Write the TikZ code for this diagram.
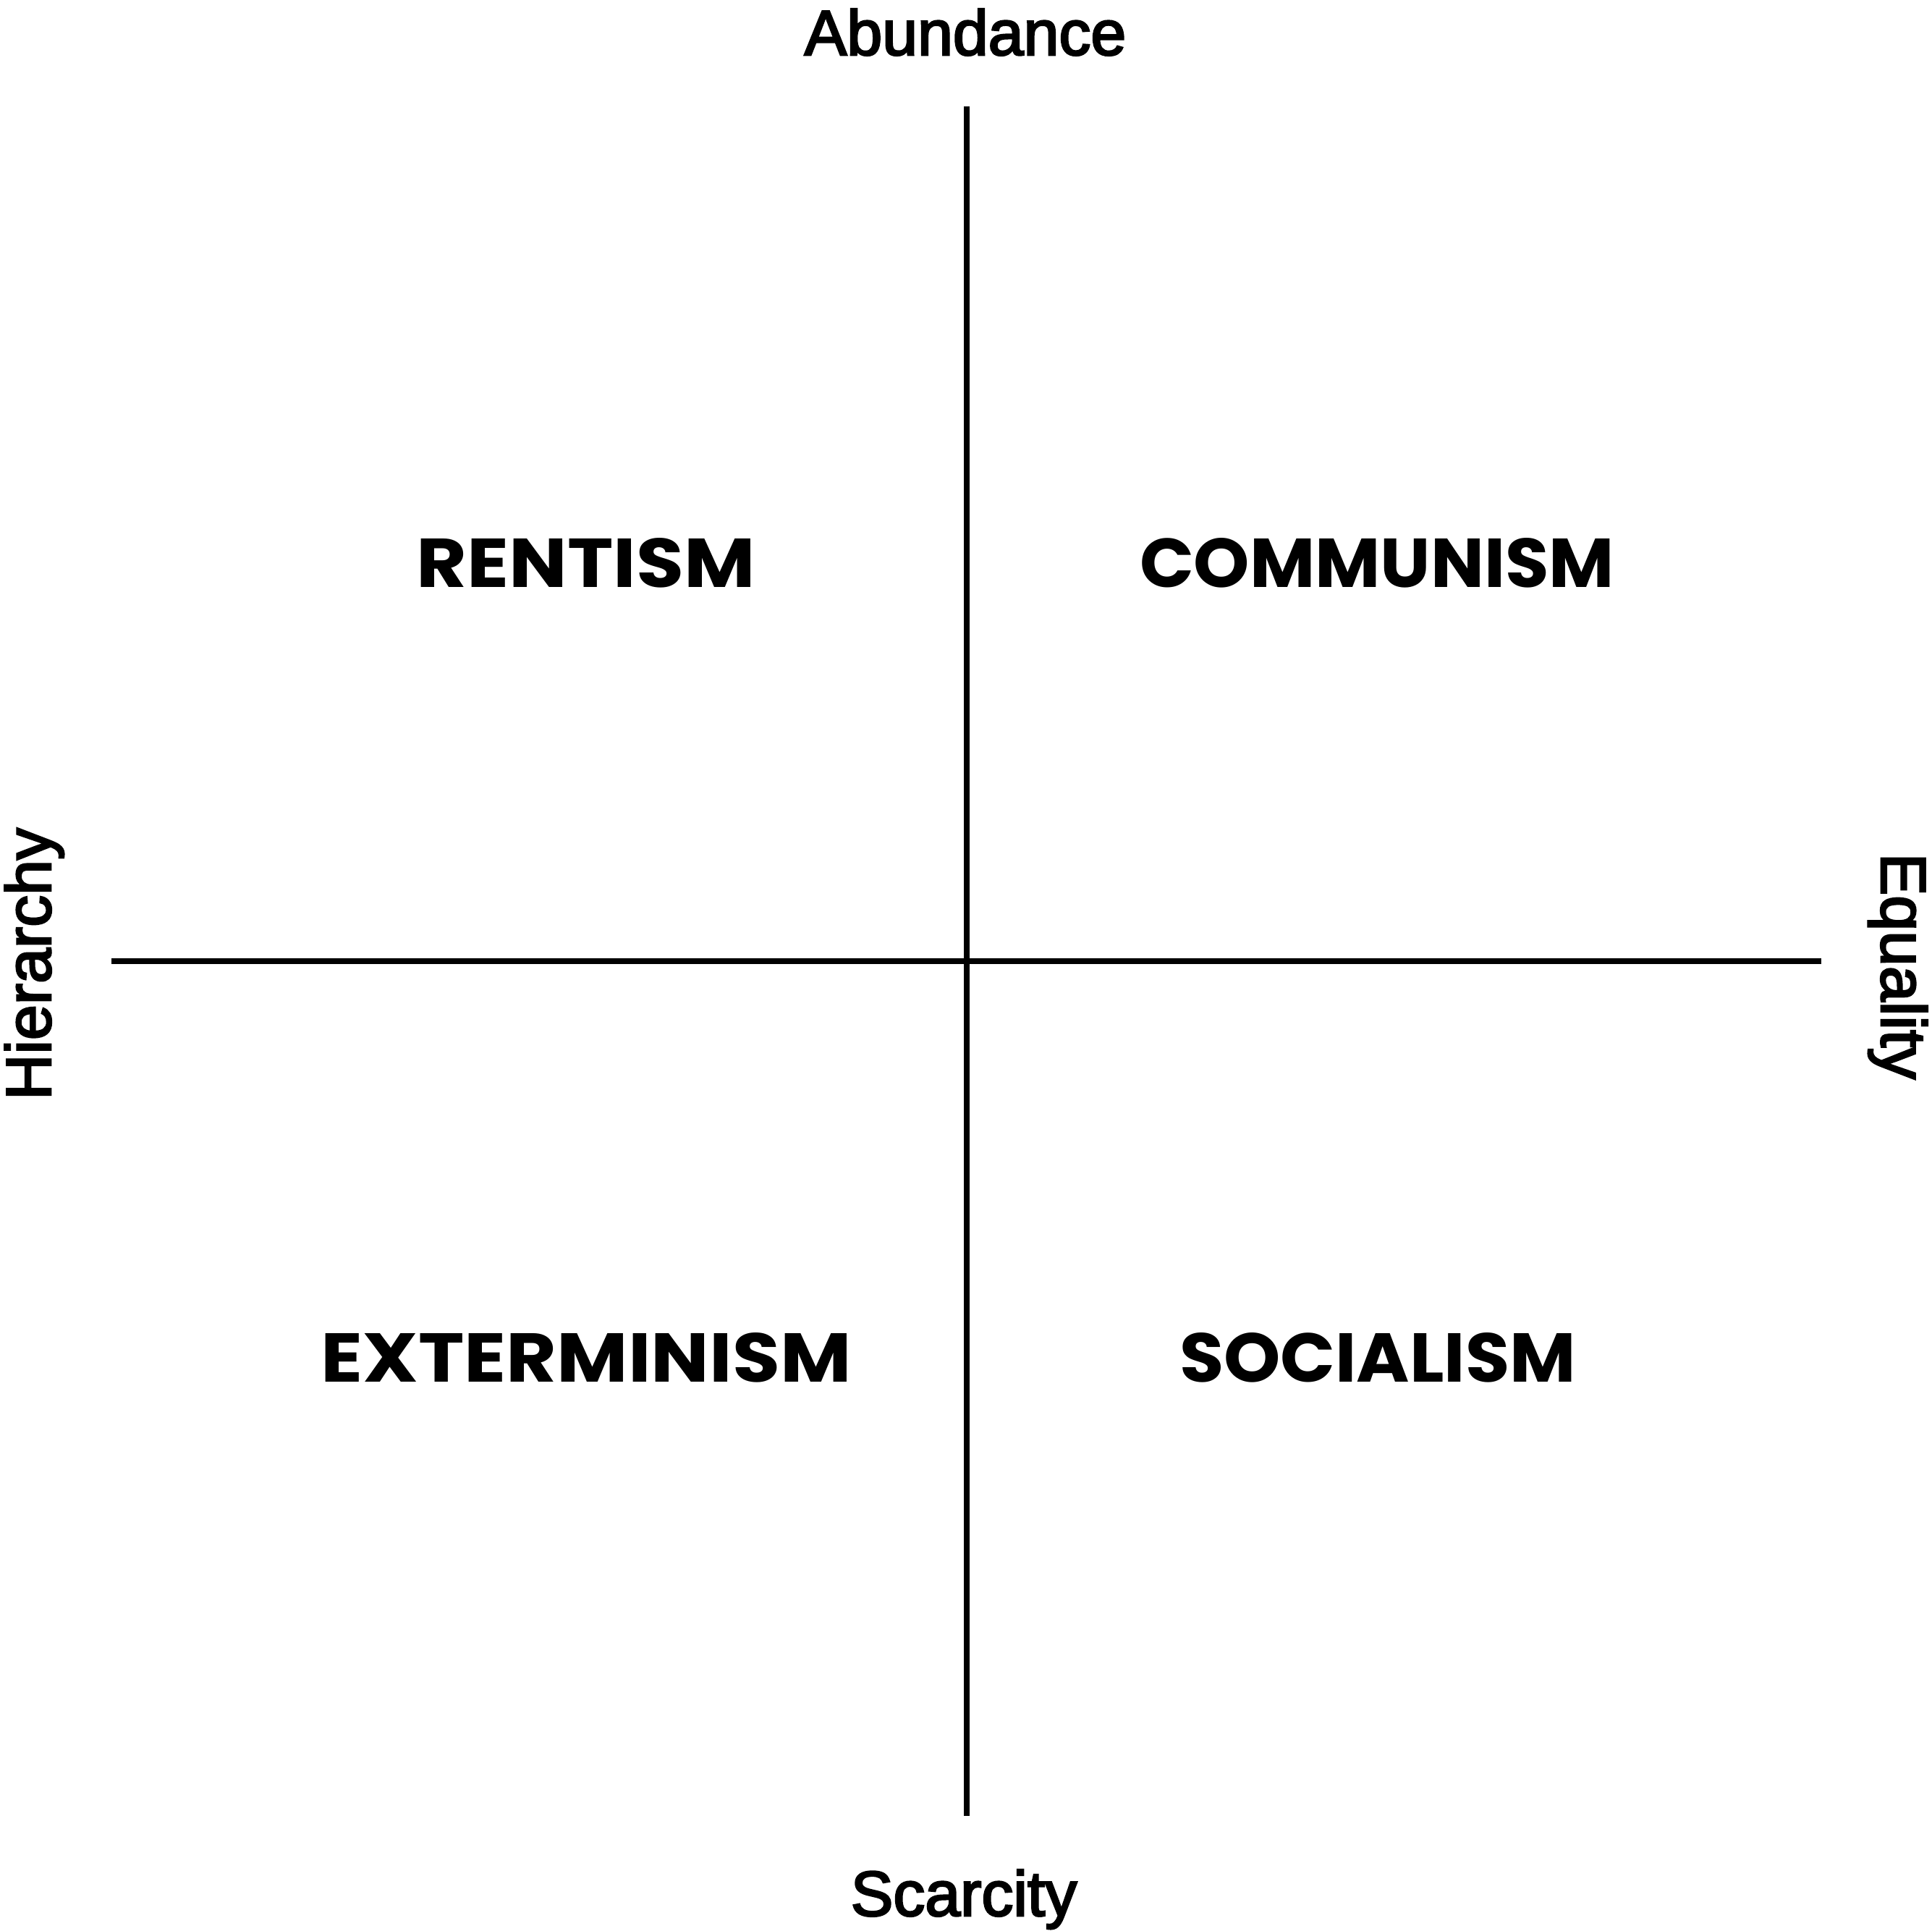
\documentclass[tikz,border=0pt]{standalone}
\usepackage{fontspec}
\setmainfont{Liberation Sans}[FakeBold=3]
\newfontfamily\quadfont{Poppins}
\usepackage{graphicx}
\usetikzlibrary{positioning}

\begin{document}
\begin{tikzpicture}[
  ax/.style={font=\fontsize{25}{30}\selectfont, inner sep=0pt},
  qd/.style={inner sep=0pt, anchor=center},
  axline/.style={line width=2.1pt, black}]
\useasboundingbox (0,0) rectangle (26.70,26.68);
% axes
\coordinate (top) at (13.36,25.21);
\coordinate (bottom) at (13.36,1.59);
\coordinate (left) at (1.54,13.40);
\coordinate (right) at (25.17,13.40);
\draw[axline] (top) -- (bottom);
\draw[axline] (left) -- (right);
% axis labels
\node[ax, anchor=base] (abundance) at (13.34,25.92) {Abundance};
\node[ax, anchor=base] (scarcity) at (13.32,0.21) {Scarcity};
\node[ax, anchor=base, rotate=90] (hierarchy) at (0.70,13.36) {Hierarchy};
\node[ax, anchor=base, rotate=-90] (equality) at (26.00,13.33) {Equality};
% quadrants
\node[qd] (rentism) at (8.10,18.90) {\resizebox{4.68cm}{0.68cm}{\quadfont\bfseries RENTISM}};
\node[qd] (communism) at (19.03,18.90) {\resizebox{6.56cm}{0.68cm}{\quadfont\bfseries COMMUNISM}};
\node[qd] (exterminism) at (8.10,7.92) {\resizebox{7.33cm}{0.68cm}{\quadfont\bfseries EXTERMINISM}};
\node[qd] (socialism) at (19.04,7.92) {\resizebox{5.48cm}{0.68cm}{\quadfont\bfseries SOCIALISM}};
\end{tikzpicture}
\end{document}
